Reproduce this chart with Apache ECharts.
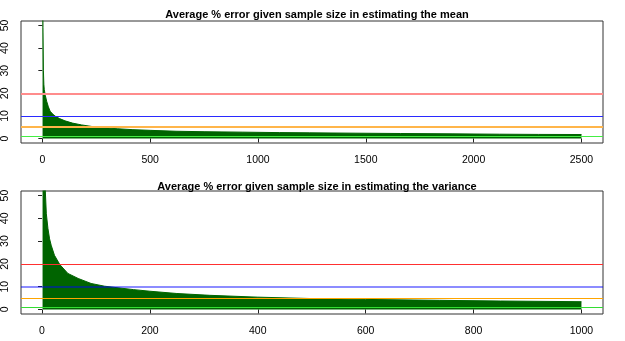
<!DOCTYPE html>
<html>
<head>
<meta charset="utf-8">
<script src="https://cdn.jsdelivr.net/npm/echarts@6/dist/echarts.min.js"></script>
<style>
  html, body { margin: 0; padding: 0; background: #fff; }
  #chart { width: 625px; height: 341px; }
</style>
</head>
<body>
<div id="chart"></div>
<script>
// sample sizes and average % error
const meanN   = [1, 3, 5, 7, 9, 14, 20, 28, 36, 47, 59, 80, 105, 140, 182, 230, 290, 350, 420, 500, 620, 750, 930, 1100, 1240, 1450, 1660, 1900, 2120, 2300, 2500]
const meanErr = [80, 49, 30, 24, 21.6, 19, 16.5, 14, 12.1, 10.9, 9.9, 8.8, 7.8, 6.8, 6.0, 5.3, 4.7, 4.3, 3.9, 3.6, 3.2, 3.0, 2.8, 2.6, 2.5, 2.35, 2.2, 2.05, 1.9, 1.8, 1.75]
const varN    = [1, 3, 5, 8, 11, 14, 17, 23, 33, 48, 67, 91, 116, 141, 170, 200, 250, 311, 400, 496, 600, 737, 850, 1000]
const varErr  = [90, 75, 58, 42, 35.5, 31, 28.2, 23.8, 19.7, 15.8, 13.6, 11.4, 10.2, 9.5, 8.7, 8.0, 7.0, 6.2, 5.4, 4.8, 4.4, 4.0, 3.7, 3.4]

const meanTicks = [0, 500, 1000, 1500, 2000, 2500]
const varTicks  = [0, 200, 400, 600, 800, 1000]
const yTicks    = [0, 10, 20, 30, 40, 50]

const refLevels = [20, 10, 5, 1]
// [colour, opacity, width] of the reference lines
const topRefStyle = [['#ff8c8c', 1, 2], ['#2a2aff', 1, 1.2], ['#ffb54a', 1, 2], ['#44ee44', 1, 1.2]]
const botRefStyle = [['#ff3030', 1, 1], ['#0000ff', 0.45, 2], ['#ffa500', 1, 1.2], ['#33dd33', 1, 1.2]]

const font = 'Liberation Sans, Arial, sans-serif'

function xAxisOf(idx, ticks, lo, hi) {
  return {
    type: 'value', gridIndex: idx, min: lo, max: hi,
    axisLine: { show: false },
    splitLine: { show: false },
    axisTick: { show: true, length: 4, customValues: ticks, lineStyle: { color: '#222' } },
    axisLabel: { customValues: ticks, margin: 12, color: '#000', fontSize: 10.5, fontFamily: font,
      formatter: v => String(v) }
  }
}
function yAxisOf(idx) {
  return {
    type: 'value', gridIndex: idx, min: -2, max: 52,
    axisLine: { show: false },
    splitLine: { show: false },
    axisTick: { show: true, length: 4, customValues: yTicks, lineStyle: { color: '#222' } },
    axisLabel: { customValues: yTicks, rotate: 90, margin: 10, color: '#000', fontSize: 10.5, fontFamily: font,
      formatter: v => String(v) }
  }
}
function areaSeries(idx, xs, ys, styles) {
  return {
    type: 'line', xAxisIndex: idx, yAxisIndex: idx,
    data: xs.map((x, i) => [x, ys[i]]),
    showSymbol: false, clip: true, silent: true,
    lineStyle: { color: '#006400', width: 1 },
    areaStyle: { color: '#006400', opacity: 1, origin: 0 },
    markLine: {
      silent: true, symbol: 'none', label: { show: false }, animation: false,
      emphasis: { disabled: true },
      data: refLevels.map((v, i) => ({
        yAxis: v,
        lineStyle: { color: styles[i][0], opacity: styles[i][1], width: styles[i][2], type: 'solid' }
      }))
    }
  }
}

const chart = echarts.init(document.getElementById('chart'))
chart.setOption({
  animation: false,
  backgroundColor: '#fff',
  title: [
    { text: 'Average % error given sample size in estimating the mean', left: 312, top: 4, textAlign: 'center',
      textStyle: { fontSize: 11, fontWeight: 'bold', color: '#000', fontFamily: font } },
    { text: 'Average % error given sample size in estimating the variance', left: 312, top: 176, textAlign: 'center',
      textStyle: { fontSize: 11, fontWeight: 'bold', color: '#000', fontFamily: font } }
  ],
  grid: [
    { left: 21, top: 21, width: 582, height: 122, show: true, borderColor: '#333', borderWidth: 1, backgroundColor: 'transparent' },
    { left: 21, top: 191, width: 582, height: 123, show: true, borderColor: '#333', borderWidth: 1, backgroundColor: 'transparent' }
  ],
  xAxis: [xAxisOf(0, meanTicks, -98.96, 2599.96), xAxisOf(1, varTicks, -38.96, 1039.96)],
  yAxis: [yAxisOf(0), yAxisOf(1)],
  series: [areaSeries(0, meanN, meanErr, topRefStyle), areaSeries(1, varN, varErr, botRefStyle)]
})
</script>
</body>
</html>
